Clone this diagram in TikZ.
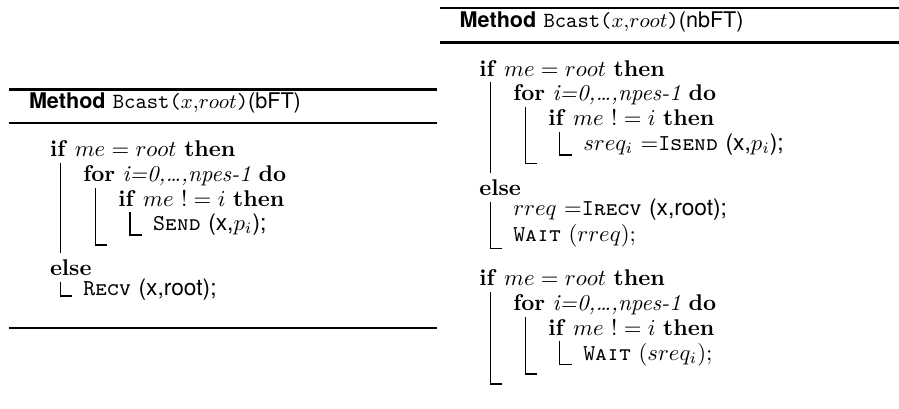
\documentclass[tikz,border=0pt]{standalone}
\usepackage{fontspec}
\setsansfont{TeX Gyre Heros}
\newcommand\kw[1]{\textbf{#1}}
\newcommand\fn[1]{{\ttfamily\scshape #1}}
\newcommand\hdr[1]{{\fontsize{9.5}{11}\selectfont\textsf{\bfseries Method} \texttt{Bcast(}$x$,$root$\texttt{)}\textsf{(#1)}}}
\begin{document}
\begin{tikzpicture}[x=0.44pt,y=-0.44pt,
  ln/.style={anchor=base west,inner sep=0pt,outer sep=0pt},
  rulel/.style={line width=0.9pt},
  blk/.style={line width=0.45pt}]
\useasboundingbox (0,0) rectangle (899,408);
% ---------------- left: bFT ----------------
\draw[rulel] (8.5,89.5) -- (437,89.5);
\draw[rulel] (8.5,122.7) -- (437,122.7);
\draw[rulel] (8.5,328.3) -- (437,328.3);
\node[ln] (lh) at (29,108.5) {\hdr{bFT}};
\node[ln] (l1) at (50,156.5) {\kw{if} $me = root$ \kw{then}};
\node[ln] (l2) at (83.3,181) {\kw{for} \textit{i=0,\dots,npes-1} \kw{do}};
\node[ln] (l3) at (118.3,206) {\kw{if} $me\ != i$ \kw{then}};
\node[ln] (l4) at (153,230.5) {\fn{Send} \textsf{(x,}$p_i$\textsf{);}};
\node[ln] (l5) at (50,275) {\kw{else}};
\node[ln] (l6) at (83.3,295.5) {\fn{Recv} \textsf{(x,root);}};
\draw[blk] (60.7,163) -- (60.7,253);
\draw[blk] (95.7,188) |- (106.7,245);
\draw[blk] (130,212) |- (141.7,235);
\draw[blk] (60.7,281.7) |- (71.7,296);
% ---------------- right: nbFT ----------------
\draw[rulel] (440,8.3) -- (899,8.3);
\draw[rulel] (440,42.5) -- (899,42.5);
\node[ln] (rh) at (459.7,27) {\hdr{nbFT}};
\node[ln] (r1) at (479.3,76) {\kw{if} $me = root$ \kw{then}};
\node[ln] (r2) at (513.3,100.5) {\kw{for} \textit{i=0,\dots,npes-1} \kw{do}};
\node[ln] (r3) at (548.3,125.5) {\kw{if} $me\ != i$ \kw{then}};
\node[ln] (r4) at (583.3,150.5) {$sreq_i$ =\fn{Isend} \textsf{(x,}$p_i$\textsf{);}};
\node[ln] (r5) at (479.3,195) {\kw{else}};
\node[ln] (r6) at (513.3,215.5) {$rreq$ =\fn{Irecv} \textsf{(x,root);}};
\node[ln] (r7) at (513.3,241.5) {\fn{Wait} ($rreq$);};
\node[ln] (r8) at (479.3,285.5) {\kw{if} $me = root$ \kw{then}};
\node[ln] (r9) at (513.3,310) {\kw{for} \textit{i=0,\dots,npes-1} \kw{do}};
\node[ln] (r10) at (548.3,335) {\kw{if} $me\ != i$ \kw{then}};
\node[ln] (r11) at (583.3,360.5) {\fn{Wait} ($sreq_i$);};
\draw[blk] (490.7,82) -- (490.7,173);
\draw[blk] (525,107) |- (536.7,163.5);
\draw[blk] (559.5,132) |- (571.7,155);
\draw[blk] (490.7,201.7) |- (501.7,248.3);
\draw[blk] (490.7,292) |- (501.7,384);
\draw[blk] (525,317) |- (536.7,374);
\draw[blk] (559.5,341) |- (571.7,364.5);
\end{tikzpicture}
\end{document}
